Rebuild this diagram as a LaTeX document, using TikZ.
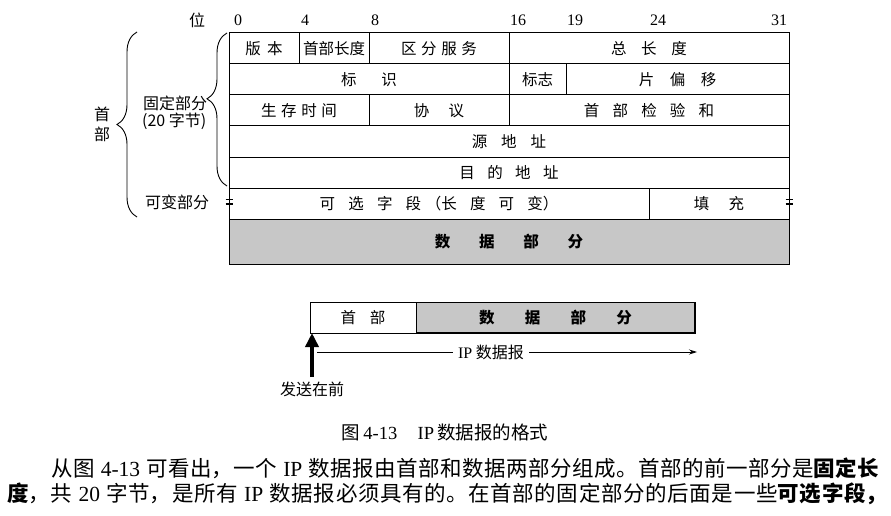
\documentclass[tikz,border=0pt]{standalone}
\usepackage{fontspec}
\setmainfont{Liberation Serif}
\newfontfamily\cjk{Noto Sans CJK SC}
\usetikzlibrary{positioning, arrows.meta, decorations.pathreplacing}
\XeTeXlinebreaklocale "zh"
\XeTeXlinebreakskip=0pt plus 2pt
\makeatletter
\newcommand\spaced[2]{{\def\sp@gap{}\@tfor\sp@c:=#2\do{\sp@gap\sp@c\def\sp@gap{\hspace{#1}}}}}
\makeatother
\newcommand\tabfont{\fontsize{15.5}{18}\selectfont\cjk}
\newcommand\lblfont{\fontsize{16}{20}\selectfont\cjk}
\tikzset{
	field/.style={draw, line width=1pt, inner sep=0pt, outer sep=0pt, anchor=north west, minimum height=31pt, font=\tabfont},
	datafield/.style={field, fill=black!22, font=\tabfont\bfseries},
	bitnum/.style={inner sep=0pt, font=\fontsize{16}{16}\selectfont},
	lbl/.style={inner sep=0pt, font=\lblfont},
	hbrace/.style={decorate, line width=.9pt, decoration={brace, amplitude=20pt, aspect=#1}},
	hbrace/.default=0.5,
	eqmark/.style={line width=1.6pt},
	sendarrow/.style={line width=4.5pt, -{Triangle[width=13pt, length=14pt]}},
	lenarrow/.style={line width=.8pt, -{Stealth[length=8pt, width=5pt]}},
	para/.style={anchor=west, inner sep=0pt, align=justify, font=\fontsize{21.5}{26}\selectfont}
}

\begin{document}
\begin{tikzpicture}[x=1pt, y=-1pt]
\useasboundingbox (0,0) rectangle (891,516);
% bit numbers
\node[lbl] (wei) at (197,20) {位};
\foreach \b/\x in {0/238, 4/305, 8/375, 16/518, 19/575, 24/658, 31/779}
	\node[bitnum] (bit\b) at (\x,20) {\b};
% fixed part
\node[field, minimum width=70pt] (ver) at (229,33) {\spaced{.4em}{版本}};
\node[field, minimum width=70pt] (hlen) at (299,33) {首部长度};
\node[field, minimum width=140pt] (tos) at (369,33) {\spaced{.3em}{区分服务}};
\node[field, minimum width=280pt] (tlen) at (509,33) {\spaced{.95em}{总长度}};
\node[field, minimum width=280pt] (ident) at (229,64) {\spaced{1.6em}{标识}};
\node[field, minimum width=57pt] (flag) at (509,64) {标志};
\node[field, minimum width=223pt] (frag) at (566,64) {\spaced{1em}{片偏移}};
\node[field, minimum width=140pt] (ttl) at (229,95) {\spaced{.3em}{生存时间}};
\node[field, minimum width=140pt] (proto) at (369,95) {\spaced{1.25em}{协议}};
\node[field, minimum width=280pt] (csum) at (509,95) {\spaced{.85em}{首部检验和}};
\node[field, minimum width=560pt] (src) at (229,126) {\spaced{.9em}{源地址}};
\node[field, minimum width=560pt] (dst) at (229,157) {\spaced{.8em}{目的地址}};
% variable part
\node[field, minimum width=420pt] (opt) at (229,188) {\spaced{.85em}{可选字段}\hspace{.3em}（\spaced{.85em}{长度可变}）};
\node[field, minimum width=140pt] (pad) at (649,188) {\spaced{1.25em}{填充}};
\node[datafield, minimum width=560pt, minimum height=45pt] (data) at (229,219) {\spaced{1.85em}{数据部分}};
\foreach \x in {229, 789} {
	\draw[eqmark] (\x-3.5,199.5) -- (\x+3.5,199.5);
	\draw[eqmark] (\x-3.5,204) -- (\x+3.5,204);
}
% braces and labels
\draw[hbrace=0.57] (227,186) -- (227,33);
\draw[hbrace=0.5] (137,217) -- (137,32);
\node[lbl, anchor=west] (fixed) at (143,103) {固定部分};
\node[lbl, anchor=west] (fixedlen) at (142,121) {(20 字节)};
\node[lbl] (vari) at (177,202) {可变部分};
\node[lbl, align=center] (head) at (102,124) {首\\部};

% datagram
\node[field, minimum width=106pt] (dghead) at (310,302) {\spaced{.9em}{首部}};
\node[datafield, minimum width=279pt] (dgdata) at (416,302) {\spaced{1.95em}{数据部分}};
\draw[line width=1.8pt] (dgdata.south west) -- (dgdata.south east) -- (dgdata.north east);
\coordinate (sendfoot) at (312,377);
\draw[sendarrow] (sendfoot) -- ([xshift=2pt]dghead.south west);
\node[lbl] (send) at (312,389) {发送在前};
\node[lbl, fill=white, inner xsep=5pt] (iplbl) at (491,352) {{\rmfamily IP} 数据报};
\coordinate (lenstart) at (317,352);
\coordinate (lenend) at (697,352);
\draw[line width=.8pt] (lenstart) -- (iplbl);
\draw[lenarrow] (iplbl) -- (lenend);

% caption and text
\node[font=\fontsize{18.5}{20}\selectfont] (caption) at (445,432) {{\cjk 图}\,4-13\hspace{1.1em}IP\,{\cjk 数据报的格式}};
\node[para, text width=828pt] (line1) at (51,468) {\noindent\parfillskip=0pt {\cjk 从图} 4-13 {\cjk 可看出，一个} IP {\cjk 数据报由首部和数据两部分组成。首部的前一部分是\bfseries 固定长}\par};
\node[para, text width=880pt] (line2) at (7,494) {\noindent\parfillskip=0pt {\cjk\bfseries 度}{\cjk ，共} 20 {\cjk 字节，是所有} IP {\cjk 数据报必须具有的。在首部的固定部分的后面是一些\bfseries 可选字段，}\par};
\end{tikzpicture}
\end{document}
